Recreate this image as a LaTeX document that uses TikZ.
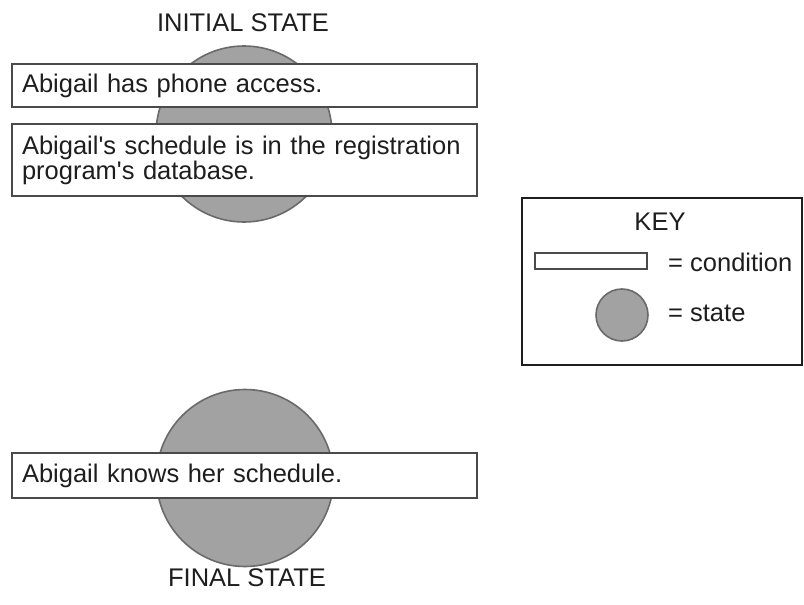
\documentclass[tikz,border=0pt]{standalone}
\usepackage{fontspec}
\setmainfont{Liberation Sans}
\definecolor{inkc}{HTML}{1E1E1E}
\definecolor{statefill}{HTML}{A2A2A2}
\definecolor{stateedge}{HTML}{6A6A6A}
\definecolor{boxedge}{HTML}{4A4A4A}
\begin{document}
\begin{tikzpicture}[x=1pt,y=-1pt,
  every node/.style={text=inkc,font=\fontsize{25.5}{25}\selectfont},
  statedisc/.style={circle,fill=statefill,draw=stateedge,line width=1.6pt,inner sep=0pt},
  condbox/.style={rectangle,draw=boxedge,fill=white,line width=1.8pt,
    minimum width=465pt,text width=445pt,inner xsep=10pt,inner ysep=0pt,align=left},
  keyframe/.style={rectangle,draw=inkc,line width=1.6pt,inner sep=0pt},
  caption/.style={inner sep=0pt}]
\useasboundingbox (0,0) rectangle (804,605);
\fill[white] (0,0) rectangle (804,605);

% initial state with its two conditions
\node[caption] (inittitle) at (243,23) {INITIAL STATE};
\node[statedisc,minimum size=176pt] (initstate) at (244,134) {};
\node[condbox,minimum height=43pt] (phone) at (244.5,85.5) {Abigail has phone access.};
\node[condbox,minimum height=72pt] (sched) at (244.5,160) {Abigail\textquotesingle s schedule is in the registration\\program\textquotesingle s database.};

% final state with its condition
\node[statedisc,minimum size=177pt] (finalstate) at (245,478) {};
\node[condbox,minimum height=45pt] (knows) at (244.5,475.5) {Abigail knows her schedule.};
\node[caption] (finaltitle) at (247,578) {FINAL STATE};

% legend
\node[keyframe,minimum width=280pt,minimum height=167pt] (keybox) at (662,281.5) {};
\node[caption] (keytitle) at (660,222) {KEY};
\node[rectangle,draw=boxedge,fill=white,line width=1.3pt,minimum width=112pt,minimum height=16pt,inner sep=0pt] (keycond) at (591,261) {};
\node[caption,anchor=west] (keycondlbl) at (668,262) {= condition};
\node[statedisc,minimum size=52pt] (keystate) at (622,315) {};
\node[caption,anchor=west] (keystatelbl) at (668,313) {= state};
\end{tikzpicture}
\end{document}
